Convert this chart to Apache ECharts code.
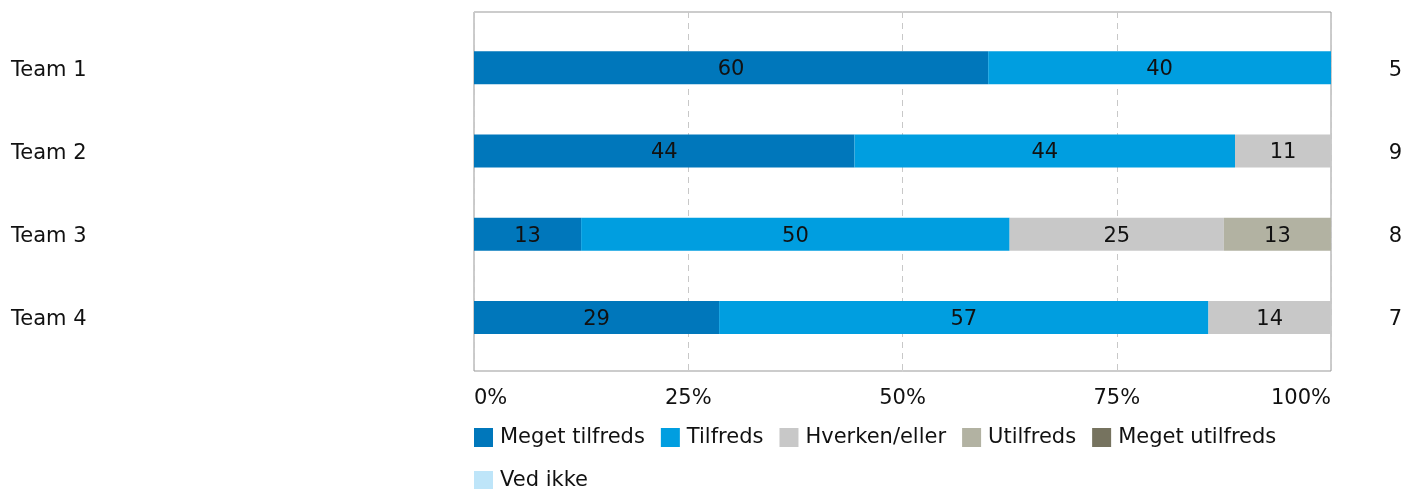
<!DOCTYPE html>
<html>
<head>
<meta charset="utf-8">
<script src="https://cdn.jsdelivr.net/npm/echarts@6/dist/echarts.min.js"></script>
<style>
html,body{margin:0;padding:0;background:#fff;}
#chart{width:1406px;height:489px;}
</style>
</head>
<body>
<div id="chart"></div>
<script>
// kategorier og antal besvarelser
const teams = ['Team 1', 'Team 2', 'Team 3', 'Team 4']
const antal = [5, 9, 8, 7]
const xTicks = ['0%', '25%', '50%', '75%', '100%']

// procent pr. svarkategori
const megetTilfreds = [60, 44.4, 12.5, 28.6]
const tilfreds = [40, 44.4, 50, 57.1]
const hverkenEller = [0, 11.2, 25, 14.3]
const utilfreds = [0, 0, 12.5, 0]
const megetUtilfreds = [0, 0, 0, 0]
const vedIkke = [0, 0, 0, 0]

const seriesNames = ['Meget tilfreds', 'Tilfreds', 'Hverken/eller', 'Utilfreds', 'Meget utilfreds', 'Ved ikke']
const seriesValues = [megetTilfreds, tilfreds, hverkenEller, utilfreds, megetUtilfreds, vedIkke]
const colors = ['#0077bb', '#009ee0', '#c8c8c8', '#b2b2a2', '#76735f', '#bee5f9']

const font = 'DejaVu Sans, Verdana, sans-serif'
const fs = 21
const chartObj = echarts.init(document.getElementById('chart'))

let seriesData = []
for (let i = 0; i < seriesNames.length; i++) {
	seriesData.push({
		name: seriesNames[i],
		type: 'bar',
		stack: 'total',
		xAxisIndex: 0,
		yAxisIndex: 0,
		barWidth: 33,
		data: seriesValues[i].map(v => v === 0 ? null : v),
		itemStyle: { color: colors[i] },
		label: {
			show: true,
			position: 'inside',
			offset: [0, 2],
			color: '#111',
			fontSize: fs,
			fontFamily: font,
			formatter: p => p.value ? String(Math.round(p.value)) : ''
		}
	})
}

// sideetiketter lidt ned, som i originalen
const sideRich = { t: { fontSize: fs, fontFamily: font, color: '#111', padding: [5, 0, 0, 0] } }

const option = {
	animation: false,
	color: colors,
	grid: [
		// søjlerne
		{ left: 474, right: 75, top: 26, bottom: 130 },
		// rammen og gitterlinjer
		{ left: 474, right: 75, top: 12, bottom: 118, show: true, borderColor: '#999', borderWidth: 1 }
	],
	legend: {
		left: 474,
		top: 424,
		width: 860,
		padding: 0,
		itemWidth: 19,
		itemHeight: 19,
		itemGap: 16,
		icon: 'rect',
		textStyle: { fontSize: fs, fontFamily: font, color: '#111', lineHeight: 25, padding: [2, 0, 0, 2] },
		data: seriesNames
	},
	xAxis: [
		{
			gridIndex: 0,
			type: 'value',
			min: 0,
			max: 100,
			show: false
		},
		{
			gridIndex: 1,
			type: 'value',
			min: 0,
			max: 100,
			interval: 25,
			axisLine: { show: false },
			axisTick: { show: false },
			axisLabel: {
				margin: 17,
				fontSize: fs,
				fontFamily: font,
				color: '#111',
				alignMinLabel: 'left',
				alignMaxLabel: 'right',
				formatter: v => xTicks[v / 25]
			},
			splitLine: {
				lineStyle: { color: '#c8c8c8', type: [6, 5] }
			}
		}
	],
	yAxis: [
		{
			gridIndex: 0,
			type: 'category',
			data: teams,
			inverse: true,
			axisLine: { show: false },
			axisTick: { show: false },
			axisLabel: {
				align: 'left',
				margin: 463,
				formatter: v => '{t|' + v + '}',
				rich: sideRich
			}
		},
		{
			gridIndex: 0,
			type: 'category',
			data: antal.map(String),
			inverse: true,
			position: 'right',
			axisLine: { show: false },
			axisTick: { show: false },
			axisLabel: {
				align: 'right',
				margin: 71,
				formatter: v => '{t|' + v + '}',
				rich: sideRich
			}
		},
		{
			gridIndex: 1,
			type: 'value',
			show: false
		}
	],
	series: seriesData
}
chartObj.setOption(option)
</script>
</body>
</html>
